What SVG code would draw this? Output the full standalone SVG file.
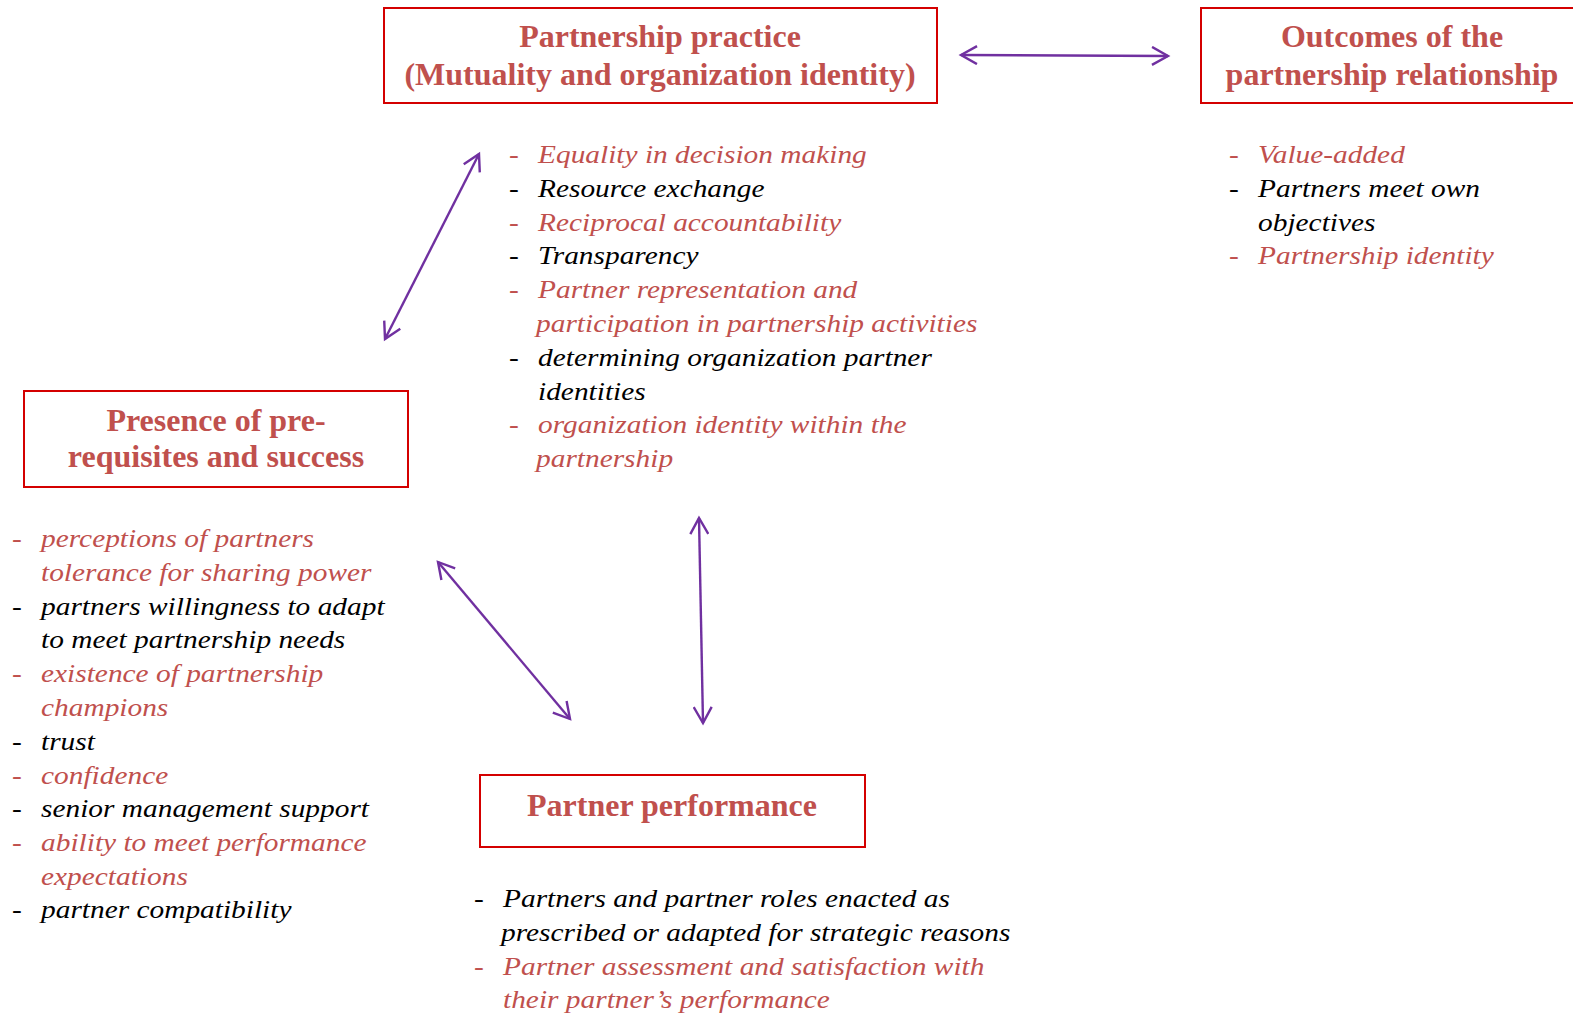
<svg xmlns="http://www.w3.org/2000/svg" width="1573" height="1015" viewBox="0 0 1573 1015">
<style>
.box{fill:#fff;stroke:#d40000;stroke-width:2}
.title{font-family:"Liberation Serif",serif;font-weight:bold;font-size:32px;fill:#c0504d;text-anchor:middle}
.item{font-family:"Liberation Serif",serif;font-style:italic;font-size:26px}
.dash{font-family:"Liberation Serif",serif;font-size:26px}
.r{fill:#c0504d}
.k{fill:#000}
.conn{stroke:#7030a0;stroke-width:2.4;fill:none;marker-start:url(#ah);marker-end:url(#ah)}
</style>
<defs>
<marker id="ah" viewBox="0 0 20 20" refX="17" refY="10" markerWidth="20" markerHeight="20" markerUnits="userSpaceOnUse" orient="auto-start-reverse">
<path d="M1,1 L17,10 L1,19" fill="none" stroke="#7030a0" stroke-width="2.4" stroke-linejoin="miter"/>
</marker>
</defs>
<rect width="1573" height="1015" fill="#fff"/>
<g id="connectors">
<line class="conn" x1="961" y1="55" x2="1168" y2="56"/>
<line class="conn" x1="479" y1="154" x2="385" y2="339"/>
<line class="conn" x1="438" y1="562" x2="570" y2="719"/>
<line class="conn" x1="699" y1="518" x2="703" y2="723"/>
</g>
<g id="practice">
<rect class="box" x="384" y="8" width="553" height="95"/>
<text class="title" x="660" y="47">Partnership practice</text>
<text class="title" x="660" y="85">(Mutuality and organization identity)</text>
<g transform="matrix(1.13 0 0 1 509 0)">
<text class="dash r" x="0" y="163">-</text><text class="item r" x="25.7" y="163">Equality in decision making</text>
<text class="dash k" x="0" y="197">-</text><text class="item k" x="25.7" y="197">Resource exchange</text>
<text class="dash r" x="0" y="231">-</text><text class="item r" x="25.7" y="231">Reciprocal accountability</text>
<text class="dash k" x="0" y="264">-</text><text class="item k" x="25.7" y="264">Transparency</text>
<text class="dash r" x="0" y="298">-</text><text class="item r" x="25.7" y="298">Partner representation and</text>
<text class="item r" x="23.9" y="332">participation in partnership activities</text>
<text class="dash k" x="0" y="366">-</text><text class="item k" x="25.7" y="366">determining organization partner</text>
<text class="item k" x="25.7" y="400">identities</text>
<text class="dash r" x="0" y="433">-</text><text class="item r" x="25.7" y="433">organization identity within the</text>
<text class="item r" x="23.9" y="467">partnership</text>
</g>
</g>
<g id="outcomes">
<rect class="box" x="1201" y="8" width="380" height="95"/>
<text class="title" x="1392" y="47">Outcomes of the</text>
<text class="title" x="1392" y="85">partnership relationship</text>
<g transform="matrix(1.13 0 0 1 1229 0)">
<text class="dash r" x="0" y="163">-</text><text class="item r" x="25.7" y="163">Value-added</text>
<text class="dash k" x="0" y="197">-</text><text class="item k" x="25.7" y="197">Partners meet own</text>
<text class="item k" x="25.7" y="231">objectives</text>
<text class="dash r" x="0" y="264">-</text><text class="item r" x="25.7" y="264">Partnership identity</text>
</g>
</g>
<g id="presence">
<rect class="box" x="24" y="391" width="384" height="96"/>
<text class="title" x="216" y="431">Presence of pre-</text>
<text class="title" x="216" y="467">requisites and success</text>
<g transform="matrix(1.13 0 0 1 12 0)">
<text class="dash r" x="0" y="547">-</text><text class="item r" x="25.7" y="547">perceptions of partners</text>
<text class="item r" x="25.7" y="581">tolerance for sharing power</text>
<text class="dash k" x="0" y="615">-</text><text class="item k" x="25.7" y="615">partners willingness to adapt</text>
<text class="item k" x="25.7" y="648">to meet partnership needs</text>
<text class="dash r" x="0" y="682">-</text><text class="item r" x="25.7" y="682">existence of partnership</text>
<text class="item r" x="25.7" y="716">champions</text>
<text class="dash k" x="0" y="750">-</text><text class="item k" x="25.7" y="750">trust</text>
<text class="dash r" x="0" y="784">-</text><text class="item r" x="25.7" y="784">confidence</text>
<text class="dash k" x="0" y="817">-</text><text class="item k" x="25.7" y="817">senior management support</text>
<text class="dash r" x="0" y="851">-</text><text class="item r" x="25.7" y="851">ability to meet performance</text>
<text class="item r" x="25.7" y="885">expectations</text>
<text class="dash k" x="0" y="918">-</text><text class="item k" x="25.7" y="918">partner compatibility</text>
</g>
</g>
<g id="performance">
<rect class="box" x="480" y="775" width="385" height="72"/>
<text class="title" x="672" y="816">Partner performance</text>
<g transform="matrix(1.13 0 0 1 474 0)">
<text class="dash k" x="0" y="907">-</text><text class="item k" x="25.7" y="907">Partners and partner roles enacted as</text>
<text class="item k" x="23.9" y="941">prescribed or adapted for strategic reasons</text>
<text class="dash r" x="0" y="975">-</text><text class="item r" x="25.7" y="975">Partner assessment and satisfaction with</text>
<text class="item r" x="25.7" y="1008">their partner’s performance</text>
</g>
</g>
</svg>
